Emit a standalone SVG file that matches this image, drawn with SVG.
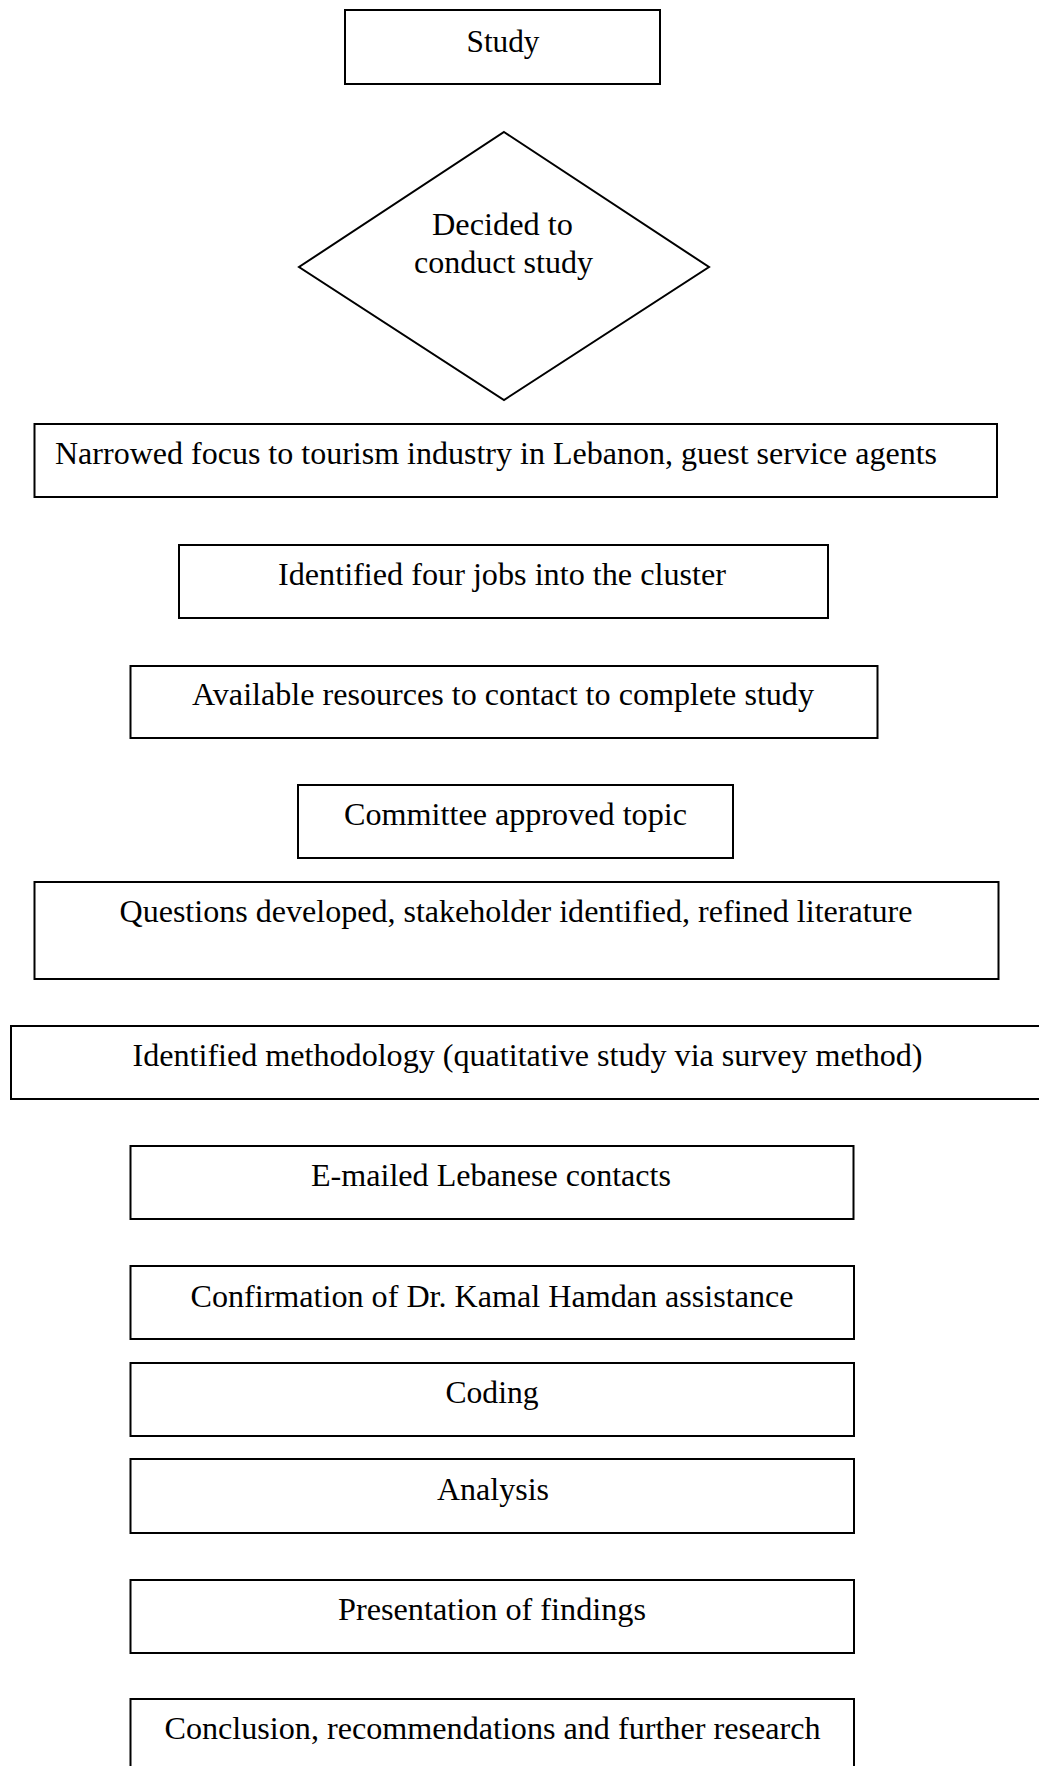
<svg xmlns="http://www.w3.org/2000/svg" width="1039" height="1766" viewBox="0 0 1039 1766">
<style>
.box{fill:#fff;stroke:#000;stroke-width:2}
.t{font-family:"Liberation Serif","Times New Roman",serif;font-size:31px;fill:#000;text-anchor:middle}
</style>
<rect x="0" y="0" width="1039" height="1766" fill="#fff"/>
<g id="connectors"></g>
<g id="n-study"><rect class="box" x="345" y="10" width="315" height="74"/><text class="t" x="503" y="52" textLength="73" lengthAdjust="spacingAndGlyphs">Study</text></g>
<g id="n-decided"><polygon class="box" points="504,132 709,267 504,400 299,267"/><text class="t" x="502.5" y="235" textLength="141" lengthAdjust="spacingAndGlyphs">Decided to</text><text class="t" x="503.5" y="273" textLength="179" lengthAdjust="spacingAndGlyphs">conduct study</text></g>
<g id="n-narrowed"><rect class="box" x="34.5" y="424" width="962.5" height="73"/><text class="t" x="496" y="464" textLength="882" lengthAdjust="spacingAndGlyphs">Narrowed focus to tourism industry in Lebanon, guest service agents</text></g>
<g id="n-four"><rect class="box" x="179" y="545" width="649" height="73"/><text class="t" x="502" y="585" textLength="448" lengthAdjust="spacingAndGlyphs">Identified four jobs into the cluster</text></g>
<g id="n-available"><rect class="box" x="130.5" y="666" width="747" height="72"/><text class="t" x="503" y="705" textLength="622" lengthAdjust="spacingAndGlyphs">Available resources to contact to complete study</text></g>
<g id="n-committee"><rect class="box" x="298" y="785" width="435" height="73"/><text class="t" x="515.5" y="825" textLength="343" lengthAdjust="spacingAndGlyphs">Committee approved topic</text></g>
<g id="n-questions"><rect class="box" x="34.5" y="882" width="964" height="97"/><text class="t" x="516" y="922" textLength="793" lengthAdjust="spacingAndGlyphs">Questions developed, stakeholder identified, refined literature</text></g>
<g id="n-methodology"><rect class="box" x="11" y="1026" width="1040" height="73"/><text class="t" x="527.5" y="1066" textLength="790" lengthAdjust="spacingAndGlyphs">Identified methodology (quatitative study via survey method)</text></g>
<g id="n-emailed"><rect class="box" x="130.5" y="1146" width="723" height="73"/><text class="t" x="491" y="1186" textLength="360" lengthAdjust="spacingAndGlyphs">E-mailed Lebanese contacts</text></g>
<g id="n-confirmation"><rect class="box" x="130.5" y="1266" width="723.5" height="73"/><text class="t" x="492" y="1307" textLength="603" lengthAdjust="spacingAndGlyphs">Confirmation of Dr. Kamal Hamdan assistance</text></g>
<g id="n-coding"><rect class="box" x="130.5" y="1363" width="723.5" height="73"/><text class="t" x="492" y="1403" textLength="93" lengthAdjust="spacingAndGlyphs">Coding</text></g>
<g id="n-analysis"><rect class="box" x="130.5" y="1459" width="723.5" height="74"/><text class="t" x="493" y="1500" textLength="112" lengthAdjust="spacingAndGlyphs">Analysis</text></g>
<g id="n-presentation"><rect class="box" x="130.5" y="1580" width="723.5" height="73"/><text class="t" x="492" y="1620" textLength="308" lengthAdjust="spacingAndGlyphs">Presentation of findings</text></g>
<g id="n-conclusion"><rect class="box" x="130.5" y="1699" width="723.5" height="80"/><text class="t" x="492.5" y="1739" textLength="656" lengthAdjust="spacingAndGlyphs">Conclusion, recommendations and further research</text></g>
</svg>
